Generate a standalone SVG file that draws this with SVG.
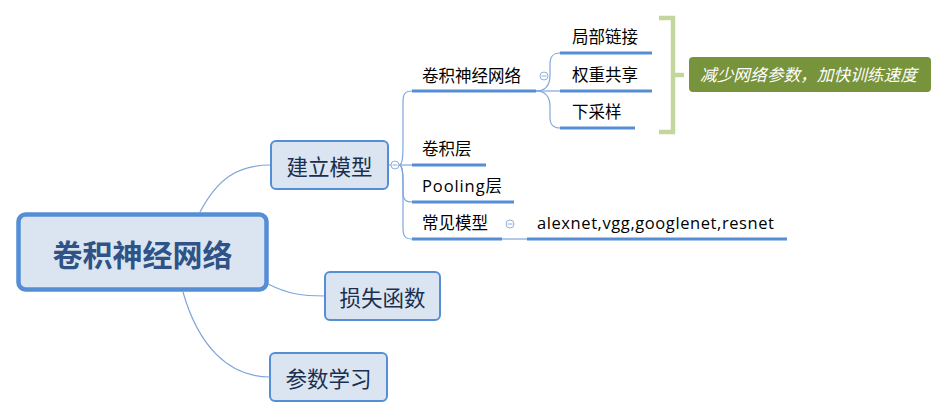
<svg xmlns="http://www.w3.org/2000/svg" width="947" height="418" viewBox="0 0 947 418">
<defs>
<style>
text{font-family:"Open Sans","Noto Sans CJK SC",sans-serif;}
.central rect{fill:#DBE5F1;stroke:#558ED5;stroke-width:4.5;}
.central text{font-size:30px;font-weight:bold;fill:#2F5287;text-anchor:middle;}
.main rect{fill:#DBE5F1;stroke:#558ED5;stroke-width:2;}
.main text{font-size:21.5px;fill:#1A2F4F;text-anchor:middle;}
.sub text{font-size:16.5px;fill:#000;}
.sub line{stroke:#558ED5;stroke-width:3;}
.conn{fill:none;stroke:#7FA6DC;stroke-width:1.2;}
.toggle{fill:#fff;stroke:#8FB0DE;stroke-width:1;}
.toggle-m{stroke:#8FB0DE;stroke-width:1;}
.brace{fill:none;stroke:#C3D69B;stroke-width:4.5;}
.summary rect{fill:#77933C;}
.summary text{font-size:16.7px;fill:#fff;font-style:italic;}
</style>
</defs>
<rect width="947" height="418" fill="#fff"/>

<g id="connectors">
<path class="conn" d="M200,212 C218,178 238,165 271,165"/>
<path class="conn" d="M268,284 C288,294 302,296 325,296"/>
<path class="conn" d="M183,292 C198,345 228,377 270,377"/>
<line class="conn" x1="388" y1="165" x2="391" y2="165"/>
<path class="conn" d="M399,165 C403,165 403,155 403,140 L403,102 C403,94 405,91 412,91"/>
<path class="conn" d="M399,165 L412,165"/>
<path class="conn" d="M399,165 C403,165 403,175 403,185 L403,192 C403,199 405,202 412,202"/>
<path class="conn" d="M399,165 C403,165 403,175 403,190 L403,228 C403,236 405,239 412,239"/>
<path class="conn" d="M536,91 C546,91 550,85 550,75 L550,64 C550,56 553,53 560,53"/>
<path class="conn" d="M536,91 L560,91"/>
<path class="conn" d="M536,91 C546,91 550,97 550,107 L550,117 C550,125 553,128 560,128"/>
<line class="conn" x1="502" y1="239" x2="527" y2="239"/>
</g>

<g id="toggles">
<circle class="toggle" cx="395" cy="165" r="4"/><line class="toggle-m" x1="392.5" y1="165" x2="397.5" y2="165"/>
<circle class="toggle" cx="544" cy="76" r="4"/><line class="toggle-m" x1="541.5" y1="76" x2="546.5" y2="76"/>
<circle class="toggle" cx="510" cy="224" r="4"/><line class="toggle-m" x1="507.5" y1="224" x2="512.5" y2="224"/>
</g>

<g id="central" class="central">
<rect x="18.5" y="214.5" width="248" height="75" rx="7"/>
<text x="142.5" y="266">卷积神经网络</text>
</g>

<g id="n-jianli" class="main">
<rect x="271" y="141" width="117" height="48" rx="5"/>
<text x="329.5" y="175">建立模型</text>
</g>
<g id="n-sunshi" class="main">
<rect x="325" y="272" width="115" height="48" rx="5"/>
<text x="382.5" y="306">损失函数</text>
</g>
<g id="n-canshu" class="main">
<rect x="270" y="353" width="117" height="48" rx="5"/>
<text x="328.5" y="387">参数学习</text>
</g>

<g id="n-cnn" class="sub">
<line x1="412" y1="91" x2="536" y2="91"/>
<text x="422" y="82">卷积神经网络</text>
</g>
<g id="n-juanjiceng" class="sub">
<line x1="412" y1="165" x2="486" y2="165"/>
<text x="422" y="155">卷积层</text>
</g>
<g id="n-pooling" class="sub">
<line x1="412" y1="202" x2="514" y2="202"/>
<text x="422" y="192" textLength="80" lengthAdjust="spacing">Pooling层</text>
</g>
<g id="n-changjian" class="sub">
<line x1="412" y1="239" x2="502" y2="239"/>
<text x="422" y="229">常见模型</text>
</g>
<g id="n-alexnet" class="sub">
<line x1="527" y1="239" x2="787" y2="239"/>
<text x="537" y="229" textLength="237" lengthAdjust="spacing">alexnet,vgg,googlenet,resnet</text>
</g>
<g id="n-jubu" class="sub">
<line x1="560" y1="53" x2="652" y2="53"/>
<text x="572" y="43">局部链接</text>
</g>
<g id="n-quanzhong" class="sub">
<line x1="560" y1="91" x2="652" y2="91"/>
<text x="572" y="81">权重共享</text>
</g>
<g id="n-xiacaiyang" class="sub">
<line x1="560" y1="128" x2="635" y2="128"/>
<text x="572" y="118">下采样</text>
</g>

<g id="brace">
<path class="brace" d="M659,18 L673,18 L673,132 L659,132 M673,75 L684,75"/>
</g>

<g id="summary" class="summary">
<rect x="689" y="57" width="242" height="35" rx="4"/>
<text x="700" y="81">减少网络参数，加快训练速度</text>
</g>
</svg>
